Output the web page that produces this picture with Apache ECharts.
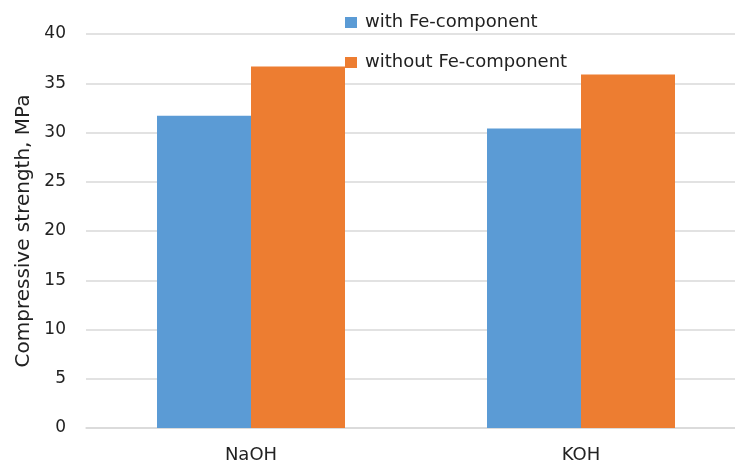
<!DOCTYPE html>
<html>
<head>
<meta charset="utf-8">
<script src="https://cdn.jsdelivr.net/npm/echarts@6/dist/echarts.min.js"></script>
<style>html,body{margin:0;padding:0;background:#fff}#c{width:735px;height:469px}</style>
</head>
<body>
<div id="c"></div>
<script>
var categories = ['NaOH', 'KOH'];
var withFe = [31.7, 30.4];
var withoutFe = [36.7, 35.9];
var seriesNames = ['with Fe-component', 'without Fe-component'];
var yTicks = {min: 0, max: 40, interval: 5};

var FONT = 'DejaVu Sans';
var chart = echarts.init(document.getElementById('c'), null, {renderer: 'canvas'});
chart.setOption({
  animation: false,
  textStyle: {fontFamily: FONT},
  grid: {left: 86, width: 660, top: 34, bottom: 41, containLabel: false, outerBoundsMode: 'none'},
  legend: {
    orient: 'vertical', left: 340, top: 8.5,
    itemWidth: 12, itemHeight: 11, itemGap: 22,
    icon: 'rect',
    textStyle: {fontFamily: FONT, fontSize: 18, color: '#222', lineHeight: 18, padding: [0,0,0,3]},
    data: seriesNames
  },
  xAxis: {
    type: 'category', data: categories,
    axisLine: {lineStyle: {color: '#D9D9D9', width: 1.5}},
    axisTick: {show: false},
    axisLabel: {fontFamily: FONT, fontSize: 18, color: '#222', margin: 18}
  },
  yAxis: {
    type: 'value', min: yTicks.min, max: yTicks.max, interval: yTicks.interval,
    name: 'Compressive strength, MPa', nameLocation: 'middle', nameGap: 52,
    nameTextStyle: {fontFamily: FONT, fontSize: 20, color: '#222'},
    axisLine: {show: false}, axisTick: {show: false},
    axisLabel: {fontFamily: FONT, fontSize: 17, color: '#222', margin: 20},
    splitLine: {lineStyle: {color: '#D9D9D9', width: 1.5}}
  },
  series: [
    {name: seriesNames[0], type: 'bar', data: withFe, barWidth: 94, barGap: '0%',
     itemStyle: {color: '#5B9BD5'}},
    {name: seriesNames[1], type: 'bar', data: withoutFe, barWidth: 94, barGap: '0%',
     itemStyle: {color: '#ED7D31'}}
  ]
});
</script>
</body>
</html>
